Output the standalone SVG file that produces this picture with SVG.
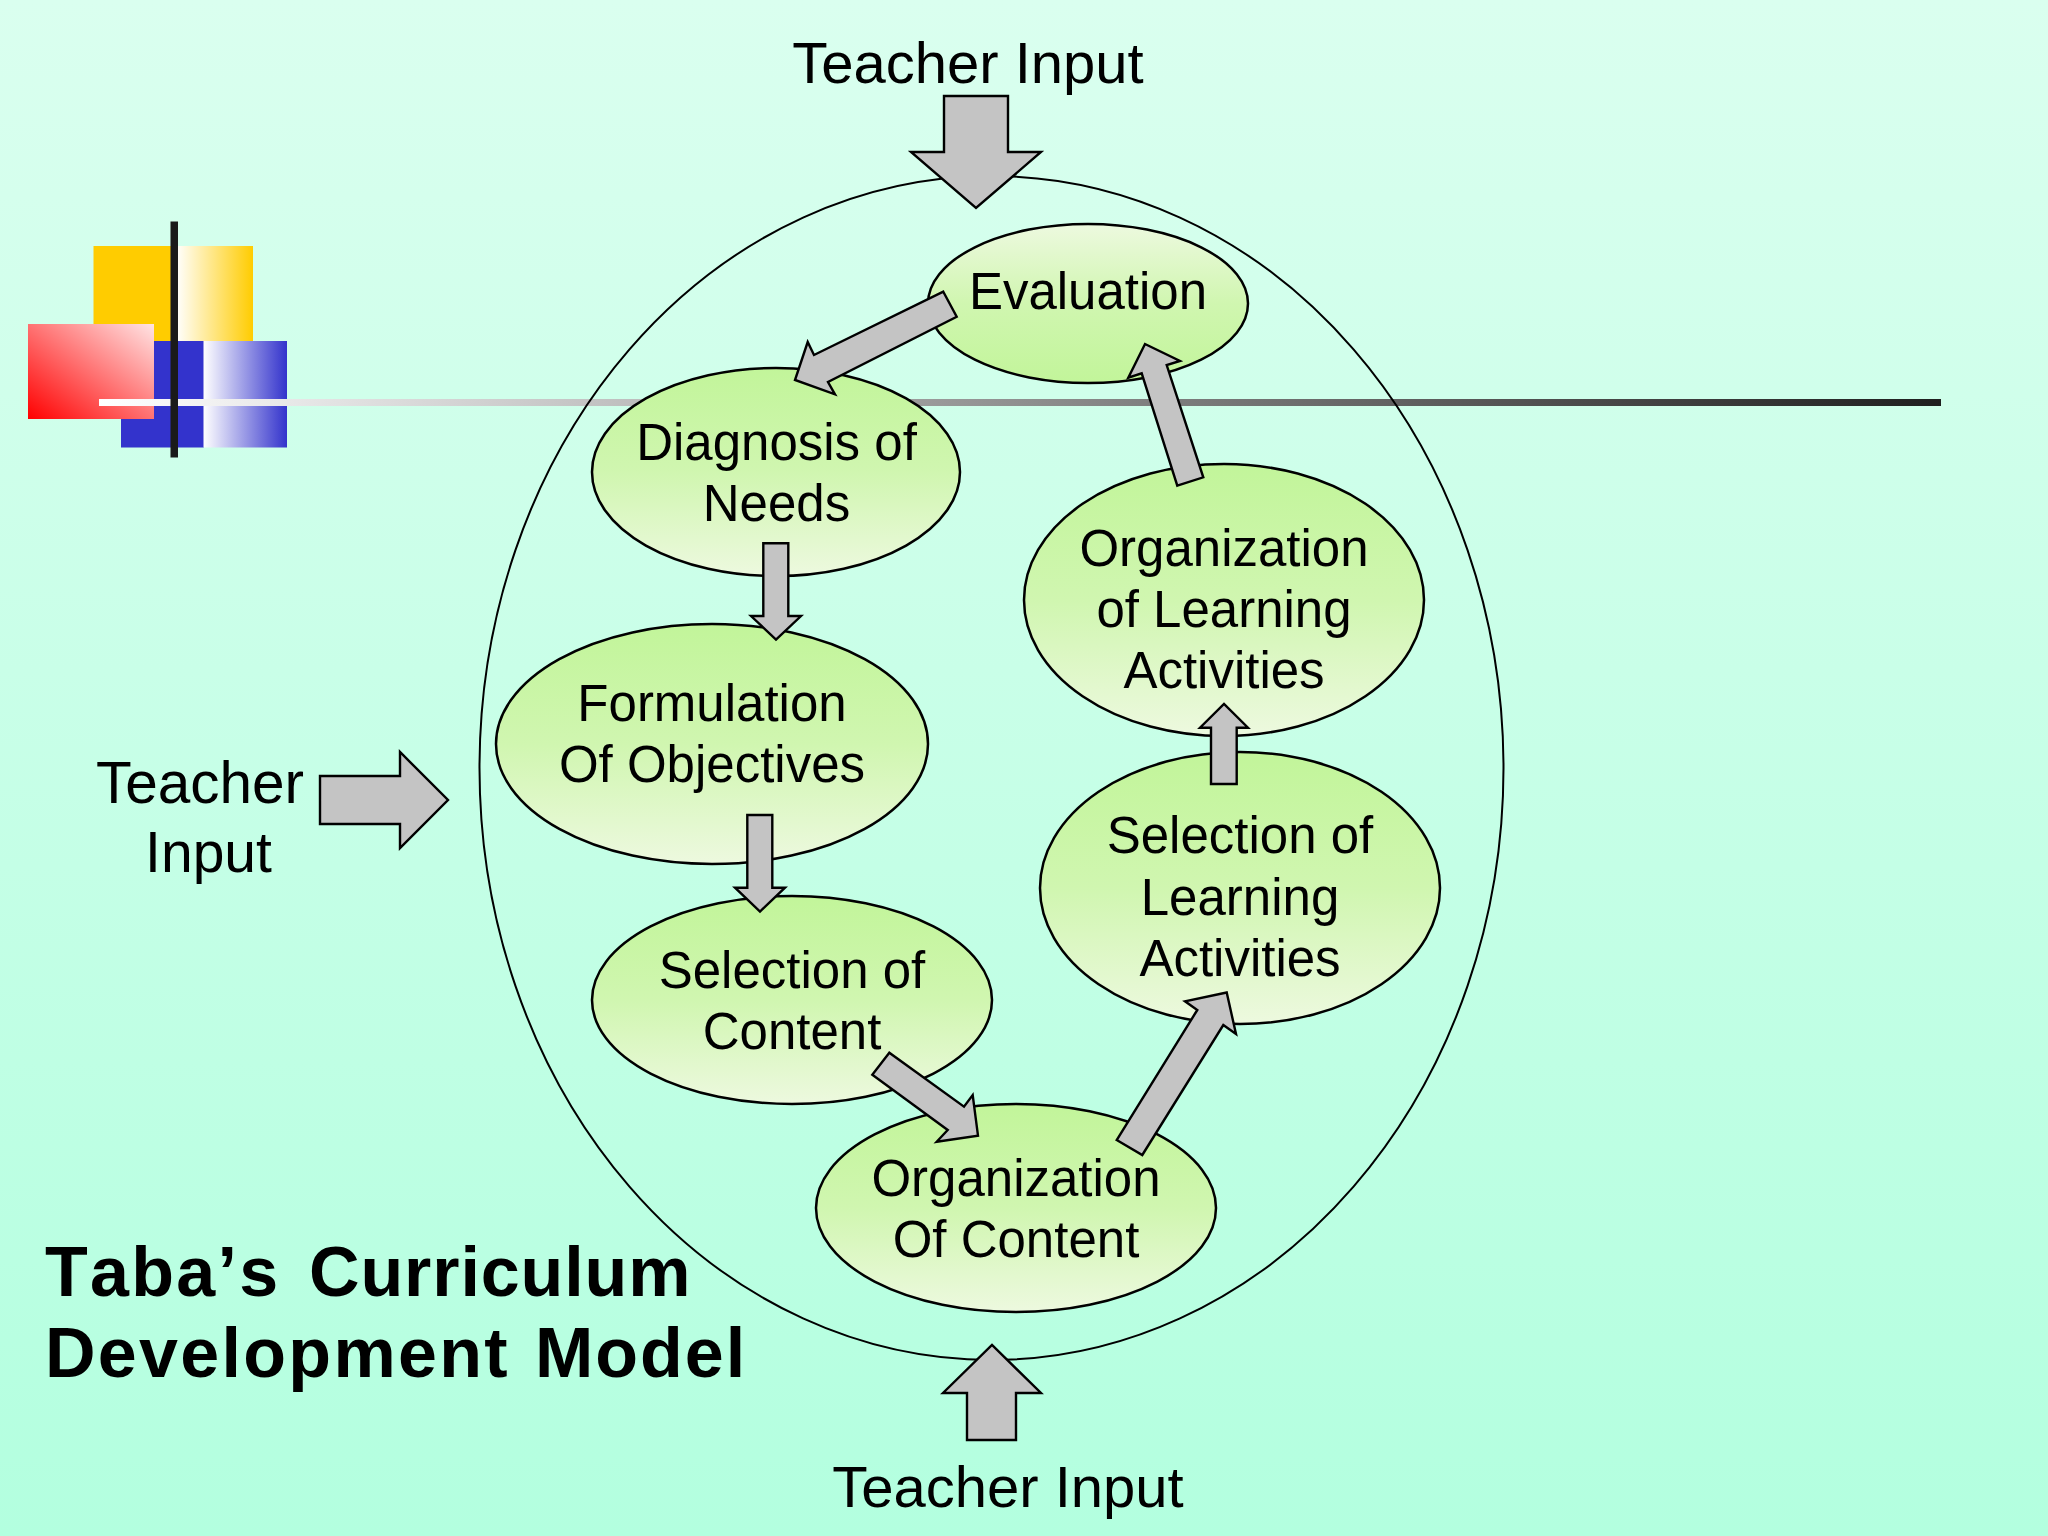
<svg xmlns="http://www.w3.org/2000/svg" width="2048" height="1536" viewBox="0 0 2048 1536">
<style>
text{font-family:"Liberation Sans",Arial,sans-serif;fill:#000;text-anchor:middle}
.n{font-size:51px}
.t{font-size:58px}
.h{font-size:70px;font-weight:bold;letter-spacing:2.3px;text-anchor:start;font-kerning:none}
.e{stroke:#000;stroke-width:2.5;fill:url(#gDown)}
.a{fill:#c4c4c4;stroke:#000;stroke-width:2.4;stroke-linejoin:miter}
</style>
<defs>
<linearGradient id="bg" x1="0" y1="0" x2="0" y2="1"><stop offset="0" stop-color="#daffef"/><stop offset="1" stop-color="#b3ffdf"/></linearGradient>
<linearGradient id="gDown" x1="0" y1="0" x2="0" y2="1"><stop offset="0" stop-color="#c2f59a"/><stop offset="0.5" stop-color="#d0f6b0"/><stop offset="1" stop-color="#edf9df"/></linearGradient>
<linearGradient id="gUp" x1="0" y1="1" x2="0" y2="0"><stop offset="0" stop-color="#c2f59a"/><stop offset="0.5" stop-color="#d0f6b0"/><stop offset="1" stop-color="#edf9df"/></linearGradient>
<linearGradient id="gY" x1="0" y1="0" x2="1" y2="0"><stop offset="0" stop-color="#fff"/><stop offset="1" stop-color="#ffcc00"/></linearGradient>
<linearGradient id="gB" x1="0" y1="0" x2="1" y2="0"><stop offset="0" stop-color="#fff"/><stop offset="1" stop-color="#3333cc"/></linearGradient>
<linearGradient id="gR" x1="0" y1="1" x2="1" y2="0"><stop offset="0" stop-color="#ff0000"/><stop offset="1" stop-color="#ffe4e4"/></linearGradient>
<linearGradient id="gL" gradientUnits="userSpaceOnUse" x1="99" y1="0" x2="1941" y2="0"><stop offset="0" stop-color="#fff"/><stop offset="1" stop-color="#1f1f1f"/></linearGradient>
</defs>
<rect id="background" width="2048" height="1536" fill="url(#bg)"/>
<g id="decoration">
<rect x="93.500" y="246" width="80" height="95" fill="#ffcc00"/>
<rect x="176" y="246" width="77" height="95" fill="url(#gY)"/>
<rect x="121" y="341" width="83" height="106.500" fill="#3333cc"/>
<rect x="203.500" y="341" width="83.500" height="106.500" fill="url(#gB)"/>
<rect x="28" y="324" width="126" height="95" fill="url(#gR)"/>
<rect x="99" y="399" width="1842" height="7" fill="url(#gL)"/>
<rect x="170.500" y="221.500" width="7.500" height="236" fill="#1a1a1a"/>
</g>
<ellipse id="outer" cx="991.500" cy="768" rx="512" ry="592" fill="none" stroke="#000" stroke-width="2"/>
<g id="evaluation"><ellipse class="e" style="fill:url(#gUp)" cx="1088" cy="303.500" rx="160" ry="79.500"/><text class="n" x="1088" y="309">Evaluation</text></g>
<g id="diagnosis"><ellipse class="e" cx="776" cy="472" rx="184" ry="104"/><text class="n" x="776.500" y="460">Diagnosis of</text><text class="n" x="776.500" y="521">Needs</text></g>
<g id="formulation"><ellipse class="e" cx="712" cy="744" rx="216" ry="120"/><text class="n" x="712" y="721">Formulation</text><text class="n" x="712" y="782">Of Objectives</text></g>
<g id="selection-content"><ellipse class="e" cx="792" cy="1000" rx="200" ry="104"/><text class="n" x="792" y="988">Selection of</text><text class="n" x="792" y="1049">Content</text></g>
<g id="organization-content"><ellipse class="e" cx="1016" cy="1208" rx="200" ry="104"/><text class="n" x="1016" y="1196">Organization</text><text class="n" x="1016" y="1257">Of Content</text></g>
<g id="selection-learning"><ellipse class="e" cx="1240" cy="888" rx="200" ry="136"/><text class="n" x="1240" y="853">Selection of</text><text class="n" x="1240" y="915">Learning</text><text class="n" x="1240" y="976">Activities</text></g>
<g id="organization-learning"><ellipse class="e" cx="1224" cy="600" rx="200" ry="136"/><text class="n" x="1224" y="566">Organization</text><text class="n" x="1224" y="627">of Learning</text><text class="n" x="1224" y="688">Activities</text></g>
<g id="connectors">
<polygon class="a" points="944,96 1008,96 1008,152 1041,152 976,208 911,152 944,152"/>
<polygon class="a" points="320,776 400,776 400,752 448,800 400,848 400,824 320,824"/>
<polygon class="a" points="967,1440 1016,1440 1016,1393 1041,1393 992,1345 943,1393 967,1393"/>
<polygon class="a" points="943.300,291.700 956.700,316.700 828,382 835,394.300 795,380 807.700,342 814,355"/>
<polygon class="a" points="1177.300,485.700 1203.300,477.300 1166.700,365 1180,361 1145,344 1128.300,377.700 1141.700,373.300"/>
<polygon class="a" points="763.300,543.300 788.300,543.300 788.300,616 801,616 776,639.500 751,616 763.300,616"/>
<polygon class="a" points="747.300,815 772.300,815 772.300,887.700 785,887.700 760,911.500 735,887.700 747.300,887.700"/>
<polygon class="a" points="889.300,1052.700 872.300,1074.700 947.700,1130 936.700,1141.700 978,1135.700 972.700,1095 964,1106.700"/>
<polygon class="a" points="1211,784 1236.700,784 1236.700,727.700 1248,727.700 1224,704 1200,727.700 1211,727.700"/>
<polygon class="a" points="1116.700,1140 1142.300,1155 1223.300,1025 1236,1034 1226.700,992.500 1185,1001.300 1197.300,1010"/>
</g>
<g id="labels">
<text class="t" x="968" y="83">Teacher Input</text>
<text class="t" x="1008" y="1507">Teacher Input</text>
<text class="t" x="200" y="803" style="font-size:58.500px">Teacher</text>
<text class="t" x="208.500" y="872" style="font-size:57px">Input</text>
<text class="h" x="45" y="1296">Taba’s <tspan x="309" letter-spacing="0.9">Curriculum</tspan></text>
<text class="h" x="45" y="1377">Development <tspan x="535" letter-spacing="2">Model</tspan></text>
</g>
</svg>
